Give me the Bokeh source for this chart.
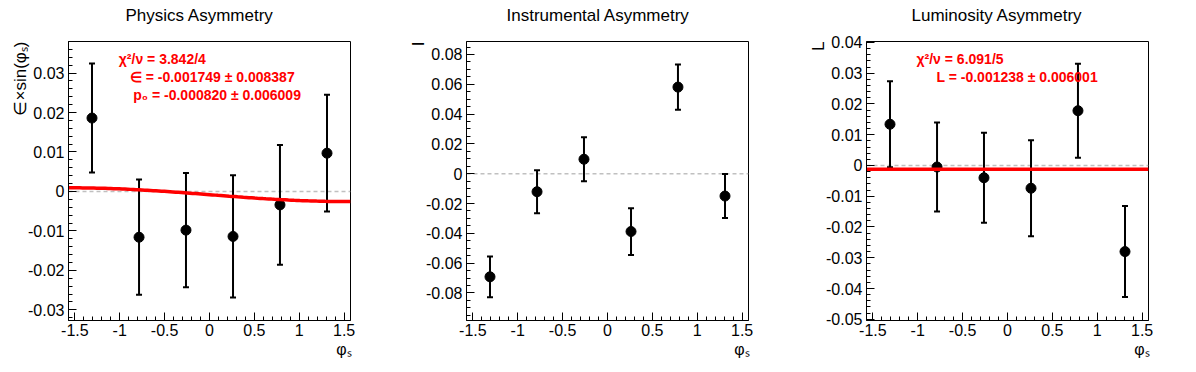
import numpy as np
from bokeh.plotting import figure
from bokeh.layouts import row
from bokeh.models import Range1d, FixedTicker, Label, CustomJSTickFormatter, Title
from bokeh.embed import file_html
from bokeh.resources import INLINE

# ---------------- data ----------------
PHI = [-1.309, -0.785, -0.262, 0.262, 0.785, 1.309]

PHYS_Y = [0.0186, -0.0116, -0.0098, -0.0114, -0.0034, 0.0097]
PHYS_ERR = [0.0138, 0.0146, 0.0145, 0.0155, 0.0152, 0.0148]

INST_Y = [-0.0692, -0.0121, 0.0097, -0.0388, 0.0581, -0.0150]
INST_ERR = [0.0137, 0.0144, 0.0147, 0.0157, 0.0152, 0.0148]

LUMI_Y = [0.0134, -0.0005, -0.0040, -0.0074, 0.0178, -0.0280]
LUMI_ERR = [0.0140, 0.0145, 0.0146, 0.0156, 0.0153, 0.0148]

FIT_EPS = -0.001749
FIT_P0 = -0.000820
FIT_L = -0.001238

TITLES = ["Physics Asymmetry", "Instrumental Asymmetry", "Luminosity Asymmetry"]
Y_TITLES = ["\u2208\u00d7sin(\u03c6\u209b)", "I", "L"]
X_TITLE = "\u03c6\u209b"
STATS_PHYS = ["\u03c7\u00b2/\u03bd = 3.842/4",
              "\u2208 = -0.001749 \u00b1 0.008387",
              "p\u2080 = -0.000820 \u00b1 0.006009"]
STATS_LUMI = ["\u03c7\u00b2/\u03bd = 6.091/5",
              "L = -0.001238 \u00b1 0.006001"]

X_TICKS = [-1.5, -1.0, -0.5, 0.0, 0.5, 1.0, 1.5]
X_LABELS = ["-1.5", "-1", "-0.5", "0", "0.5", "1", "1.5"]

Y1_TICKS = [-0.03, -0.02, -0.01, 0.0, 0.01, 0.02, 0.03]
Y1_LABELS = ["-0.03", "-0.02", "-0.01", "0", "0.01", "0.02", "0.03"]
Y2_TICKS = [-0.08, -0.06, -0.04, -0.02, 0.0, 0.02, 0.04, 0.06, 0.08]
Y2_LABELS = ["-0.08", "-0.06", "-0.04", "-0.02", "0", "0.02", "0.04", "0.06", "0.08"]
Y3_TICKS = [-0.05, -0.04, -0.03, -0.02, -0.01, 0.0, 0.01, 0.02, 0.03, 0.04]
Y3_LABELS = ["-0.05", "-0.04", "-0.03", "-0.02", "-0.01", "0", "0.01", "0.02", "0.03", "0.04"]

Y1_RANGE = (-0.0327, 0.0380)
Y2_RANGE = (-0.0985, 0.0887)
Y3_RANGE = (-0.0504, 0.0403)

# ---------------- layout constants ----------------
FONT = "Liberation Sans"
H = 370
BT, FH = 41, 279
BB = H - BT - FH
FRAME_BOTTOM_IMG = BT + FH

X_MINOR = [round(v, 3) for v in np.arange(-1.5, 1.501, 0.1)]
Y1_MINOR = [round(v, 4) for v in np.arange(-0.032, 0.0381, 0.002)]
Y2_MINOR = [round(v, 4) for v in np.arange(-0.095, 0.0886, 0.005)]
Y3_MINOR = [round(v, 4) for v in np.arange(-0.050, 0.0404, 0.002)]

FMT = "return parseFloat(tick.toFixed(4)).toString();"


def make_fig(width, bl, br, yr, yticks, ylabels, yminor, title, title_offset, ytitle):
    p = figure(width=width, height=H, x_range=Range1d(-np.pi / 2, np.pi / 2),
               y_range=Range1d(*yr), output_backend="svg", toolbar_location=None,
               min_border_left=bl, min_border_right=br, min_border_top=BT,
               min_border_bottom=BB)
    p.grid.visible = False
    p.outline_line_color = "black"
    p.outline_line_width = 1
    p.outline_line_alpha = 1
    p.background_fill_color = "white"
    p.border_fill_color = "white"
    for ax, ticks, labels, minor in [(p.xaxis[0], X_TICKS, X_LABELS, X_MINOR),
                                     (p.yaxis[0], yticks, ylabels, yminor)]:
        ax.ticker = FixedTicker(ticks=ticks, minor_ticks=minor)
        ax.formatter = CustomJSTickFormatter(code=FMT)
        ax.major_label_overrides = dict(zip(ticks, labels))
        ax.axis_line_color = "black"
        ax.major_tick_line_color = "black"
        ax.minor_tick_line_color = "black"
        ax.major_tick_in = 8
        ax.major_tick_out = 0
        ax.minor_tick_in = 4
        ax.minor_tick_out = 0
        ax.major_label_text_font = FONT
        ax.major_label_text_font_size = "16px"
        ax.major_label_text_color = "black"
    p.xaxis[0].major_label_standoff = 3
    p.yaxis[0].major_label_standoff = 4

    # spacer between frame and title (pushes the title upwards)
    p.add_layout(Title(text=" ", text_font_size="1px", standoff=14), "above")

    p.title.text = title
    p.title.align = "left"
    p.title.offset = title_offset
    p.title.standoff = 0
    p.title.text_font = FONT
    p.title.text_font_size = "17px"
    p.title.text_font_style = "normal"
    p.title.text_color = "black"

    p.add_layout(Title(text=ytitle, align="right", standoff=-8, text_font=FONT,
                       text_font_size="17px", text_font_style="normal",
                       text_color="black"), "left")
    p.add_layout(Title(text=X_TITLE, align="right", standoff=0, offset=-1,
                       text_font=FONT, text_font_size="16px",
                       text_font_style="normal", text_color="black"), "below")
    return p


def lab(p, frame_left_img, ix, iy, text, size, color="black", bold=False, align="left"):
    p.add_layout(Label(x=ix - frame_left_img, y=FRAME_BOTTOM_IMG - iy,
                       x_units="screen", y_units="screen", text=text,
                       text_font=FONT, text_font_size=f"{size}px",
                       text_color=color,
                       text_font_style="bold" if bold else "normal",
                       text_align=align, text_baseline="alphabetic"))


def draw_points(p, ys, errs):
    lo = [y - e for y, e in zip(ys, errs)]
    hi = [y + e for y, e in zip(ys, errs)]
    p.segment(x0=PHI, y0=lo, x1=PHI, y1=hi, line_color="black", line_width=2)
    p.scatter(x=PHI + PHI, y=lo + hi, marker="dash", size=6, line_color="black",
              line_width=2)
    p.scatter(x=PHI, y=ys, marker="circle", size=10, fill_color="black",
              line_color="black")


def zero_line(p):
    p.line(x=[-np.pi / 2, np.pi / 2], y=[0, 0], line_color="#c0c0c0",
           line_width=1.5, line_dash="4 3")


# ---------------- panel 1 ----------------
p1 = make_fig(400, 68, 50, Y1_RANGE, Y1_TICKS, Y1_LABELS, Y1_MINOR, TITLES[0], 57, Y_TITLES[0])
FL1 = 68
zero_line(p1)
draw_points(p1, PHYS_Y, PHYS_ERR)
fx = np.linspace(-np.pi / 2, np.pi / 2, 101)
p1.line(x=fx, y=FIT_P0 + FIT_EPS * np.sin(fx), line_color="#ff0000", line_width=3.5)
lab(p1, FL1, 118.3, 58.3, STATS_PHYS[0], 14, color="#ff0000", bold=True)
lab(p1, FL1, 129.3, 76.7, STATS_PHYS[1], 14, color="#ff0000", bold=True)
lab(p1, FL1, 132.7, 94.0, STATS_PHYS[2], 14, color="#ff0000", bold=True)

# ---------------- panel 2 ----------------
p2 = make_fig(400, 66, 52, Y2_RANGE, Y2_TICKS, Y2_LABELS, Y2_MINOR, TITLES[1], 40, Y_TITLES[1])
zero_line(p2)
draw_points(p2, INST_Y, INST_ERR)

# ---------------- panel 3 ----------------
p3 = make_fig(394, 66, 46, Y3_RANGE, Y3_TICKS, Y3_LABELS, Y3_MINOR, TITLES[2], 45, Y_TITLES[2])
FL3 = 866
zero_line(p3)
draw_points(p3, LUMI_Y, LUMI_ERR)
p3.line(x=[-np.pi / 2, np.pi / 2], y=[FIT_L, FIT_L], line_color="#ff0000", line_width=3.5)
lab(p3, FL3, 916.0, 58.3, STATS_LUMI[0], 14, color="#ff0000", bold=True)
lab(p3, FL3, 936.0, 76.0, STATS_LUMI[1], 14, color="#ff0000", bold=True)

layout = row(p1, p2, p3)
open("out.html", "w").write(file_html(layout, INLINE))
